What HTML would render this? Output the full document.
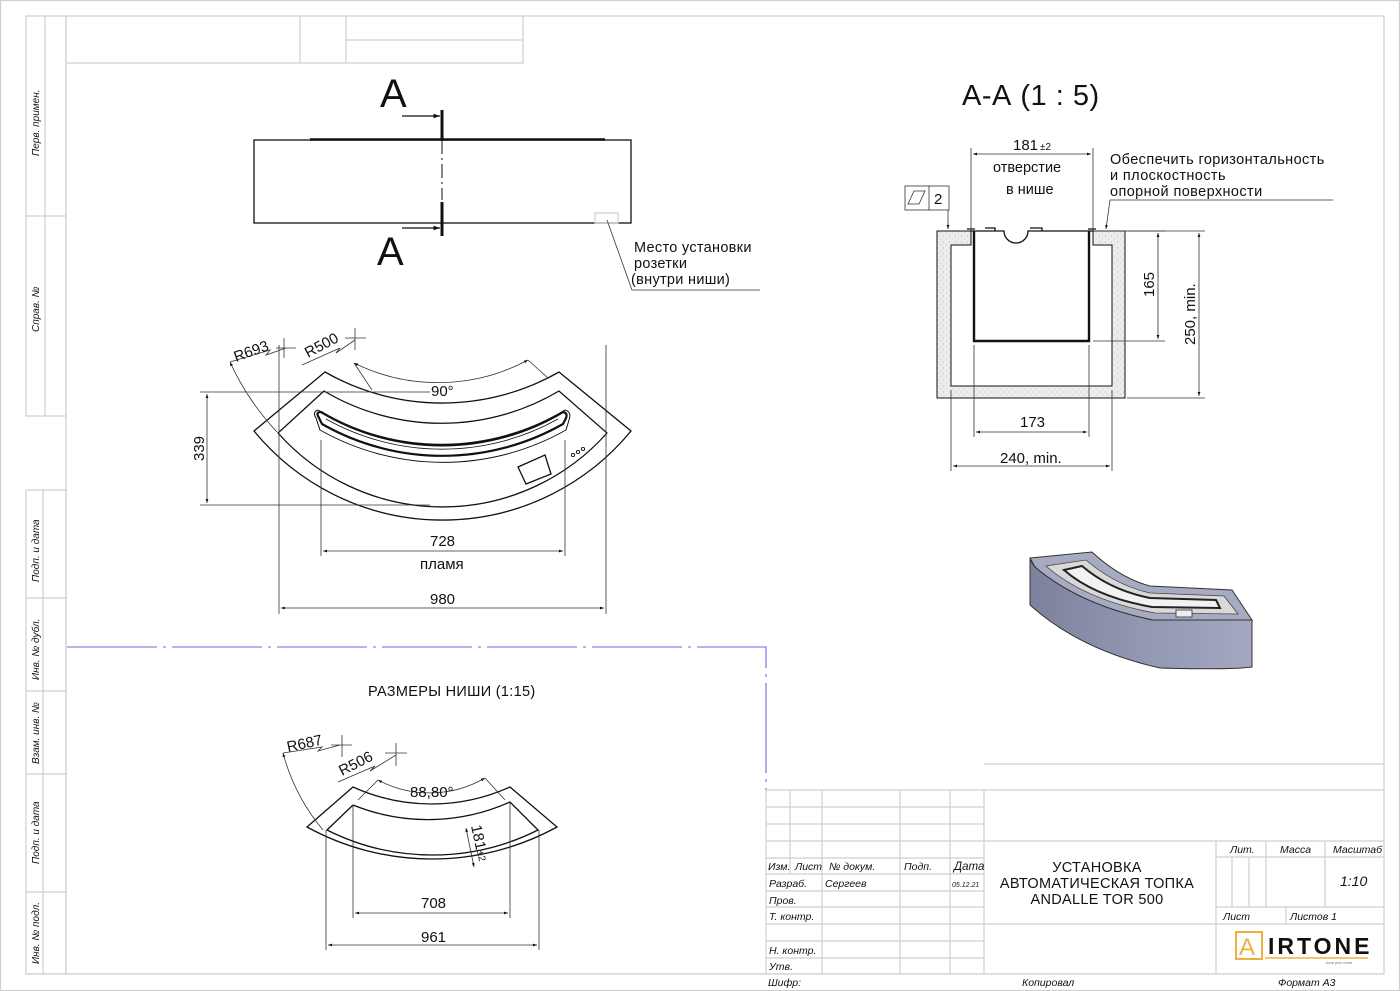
<!DOCTYPE html>
<html><head><meta charset="utf-8"><style>
html,body{margin:0;padding:0;background:#fff;}
svg{display:block;}
text{font-family:"Liberation Sans","DejaVu Sans",sans-serif;fill:#111;}
.g{stroke:#cfcfcf;stroke-width:1.2;fill:none;}
.k{stroke:#111;stroke-width:1.3;fill:none;}
.t{stroke:#333;stroke-width:0.8;fill:none;}
.th{stroke:#111;stroke-width:2.4;fill:none;}
.it{font-style:italic;font-size:10.5px;}
</style></head><body>
<svg width="1400" height="991" viewBox="0 0 1400 991" xmlns="http://www.w3.org/2000/svg">
<defs>
<marker id="ar" viewBox="0 0 10 10" refX="10" refY="5" markerWidth="9" markerHeight="5" orient="auto-start-reverse"><path d="M0,1.5 L10,5 L0,8.5 z" fill="#111"/></marker>
<pattern id="st" width="6" height="6" patternUnits="userSpaceOnUse"><rect width="6" height="6" fill="#ececec"/><circle cx="1.5" cy="2" r="0.6" fill="#bbb"/><circle cx="4.5" cy="4.8" r="0.5" fill="#c4c4c4"/></pattern>
<linearGradient id="fr" x1="0" x2="1" y1="0" y2="0"><stop offset="0" stop-color="#7d829c"/><stop offset="0.5" stop-color="#9297b2"/><stop offset="1" stop-color="#a4a8c0"/></linearGradient>
</defs>
<rect width="1400" height="991" fill="#fff"/>
<rect x="0.5" y="0.5" width="1399" height="990" class="g" stroke="#e4e4e4"/>
<rect x="66" y="16" width="1318" height="958" class="g"/>
<rect x="26" y="16" width="40" height="400" class="g"/>
<line x1="45" y1="16" x2="45" y2="416" class="g"/>
<line x1="26" y1="216" x2="66" y2="216" class="g"/>
<rect x="26" y="490" width="40" height="484" class="g"/>
<line x1="43" y1="490" x2="43" y2="974" class="g"/>
<line x1="26" y1="598" x2="66" y2="598" class="g"/>
<line x1="26" y1="691" x2="66" y2="691" class="g"/>
<line x1="26" y1="774" x2="66" y2="774" class="g"/>
<line x1="26" y1="892" x2="66" y2="892" class="g"/>
<g class="it" style="font-size:10px">
<text transform="translate(39,156) rotate(-90)">Перв. примен.</text>
<text transform="translate(39,332) rotate(-90)">Справ. №</text>
<text transform="translate(39,582) rotate(-90)">Подп. и дата</text>
<text transform="translate(39,680) rotate(-90)">Инв. № дубл.</text>
<text transform="translate(39,764) rotate(-90)">Взам. инв. №</text>
<text transform="translate(39,864) rotate(-90)">Подп. и дата</text>
<text transform="translate(39,964) rotate(-90)">Инв. № подл.</text>
</g>
<path d="M66,63 H523 V16 M300,16 V63 M346,16 V63 M346,40 H523" class="g"/>
<path d="M67,647 H766 V790" stroke="#6a6ae8" stroke-width="1.1" fill="none" stroke-dasharray="90,6,3,6"/>

<rect x="254" y="140" width="377" height="83" class="k"/>
<line x1="310" y1="139.5" x2="605" y2="139.5" stroke="#111" stroke-width="2.5"/>
<line x1="442" y1="140" x2="442" y2="200" stroke="#111" stroke-width="1" stroke-dasharray="14,4,2,4"/>
<line x1="442" y1="110" x2="442" y2="141" stroke="#111" stroke-width="3"/>
<line x1="442" y1="202" x2="442" y2="236" stroke="#111" stroke-width="3"/>
<line x1="402" y1="116" x2="440" y2="116" class="k" marker-end="url(#ar)"/>
<line x1="402" y1="228" x2="440" y2="228" class="k" marker-end="url(#ar)"/>
<text x="380" y="107" style="font-size:40px">A</text>
<text x="377" y="265" style="font-size:40px">A</text>
<rect x="595" y="213" width="23" height="10" class="g"/>
<path d="M607,220 L632,290 H760" class="t"/>
<g style="font-size:14.5px;letter-spacing:0.3px">
<text x="634" y="252">Место установки</text>
<text x="634" y="268">розетки</text>
<text x="631" y="284">(внутри ниши)</text>
</g>

<g class="k">
<path d="M325,372 L254,431 A244,244 0 0 0 631,431 L559,372 A236,236 0 0 1 325,372 Z"/>
<path d="M324,391 L278,433 A220,220 0 0 0 607,433 L559,391 A230,230 0 0 1 324,391 Z"/>
<path d="M316,418 Q312,412 318,410 A240,240 0 0 0 565,410 Q572,412 569,420 L566,430 A250,250 0 0 1 320,430 Z" stroke-width="1"/>
<path d="M318,416 Q316,412 321,412 A236,236 0 0 0 563,412 Q568,413 566,418 L563,424 A244,244 0 0 1 322,424 Z" stroke-width="2.2"/>
<path d="M326,419 A238,238 0 0 0 558,419" stroke-width="0.8"/>
<path d="M518,467 L545,455 L551,474 L526,484 Z"/>
</g>
<g fill="none" stroke="#111" stroke-width="0.9"><circle cx="573" cy="455" r="1.6"/><circle cx="578" cy="452" r="1.6"/><circle cx="583" cy="449" r="1.6"/></g>
<g class="t">
<path d="M200,392 H430 M200,505 H430"/>
<line x1="207" y1="394" x2="207" y2="503" marker-start="url(#ar)" marker-end="url(#ar)"/>
<path d="M321,440 V556 M565,440 V556"/>
<line x1="323" y1="551" x2="563" y2="551" marker-start="url(#ar)" marker-end="url(#ar)"/>
<path d="M279,345 V614 M606,345 V614"/>
<line x1="281" y1="608" x2="604" y2="608" marker-start="url(#ar)" marker-end="url(#ar)"/>
<path d="M354,363 A190,190 0 0 0 528,360" marker-start="url(#ar)" marker-end="url(#ar)"/>
<path d="M354,363 L372,390 M528,360 L548,378"/>
<path d="M230,362 A260,260 0 0 0 277,432" marker-start="url(#ar)"/>
<path d="M230,362 L270,350 L266,355 L286,348 M284,338 V358 M276,348 H296"/>
<path d="M302,365 L340,348 L336,353 L355,340 M355,328 V350 M345,338 H366"/>
</g>
<g style="font-size:15px">
<text transform="translate(236,362) rotate(-20)">R693</text>
<text transform="translate(308,358) rotate(-28)">R500</text>
<text x="431" y="396">90°</text>
<text transform="translate(204,461) rotate(-90)">339</text>
<text x="430" y="546">728</text>
<text x="420" y="569">пламя</text>
<text x="430" y="604">980</text>
</g>

<text x="962" y="105" style="font-size:29px;letter-spacing:0.5px">А-А (1 : 5)</text>
<path d="M937,231 H971 V245 H951 V386 H1112 V245 H1093 V231 H1125 V398 H937 Z" fill="url(#st)" stroke="#111" stroke-width="1"/>
<path d="M974,231 V341 H1089 V231" class="th" stroke-width="2.2"/>
<path d="M970,231 H1004 A12,12 0 0 0 1028,231 H1094" class="k"/>
<path d="M967,229 h8 M985,228 h10 v3 M1030,228 h12 v3 M1088,229 h8" class="k" stroke-width="1.6"/>
<g class="t">
<path d="M971,231 V148 M1093,231 V148"/>
<line x1="973" y1="154" x2="1091" y2="154" marker-start="url(#ar)" marker-end="url(#ar)"/>
<path d="M1093,231 H1165 M1093,341 H1165"/>
<line x1="1158" y1="233" x2="1158" y2="339" marker-start="url(#ar)" marker-end="url(#ar)"/>
<path d="M1127,231 H1205 M1127,398 H1205"/>
<line x1="1199" y1="233" x2="1199" y2="396" marker-start="url(#ar)" marker-end="url(#ar)"/>
<path d="M974,345 V437 M1089,345 V437"/>
<line x1="976" y1="432" x2="1087" y2="432" marker-start="url(#ar)" marker-end="url(#ar)"/>
<path d="M951,390 V471 M1112,390 V471"/>
<line x1="953" y1="466" x2="1110" y2="466" marker-start="url(#ar)" marker-end="url(#ar)"/>
<path d="M1333,200 H1110 L1106,229" marker-end="url(#ar)"/>
<line x1="948" y1="210" x2="948" y2="229" marker-end="url(#ar)"/>
</g>
<rect x="905" y="186" width="44" height="24" class="t" stroke="#555"/>
<line x1="929" y1="186" x2="929" y2="210" class="t"/>
<path d="M908,204 L914,191 H925 L919,204 Z" class="t"/>
<g style="font-size:15px">
<text x="1013" y="150">181</text><text x="1040" y="150" style="font-size:10px">±2</text>
<text x="993" y="172" style="font-size:14.5px">отверстие</text>
<text x="1006" y="194" style="font-size:14.5px">в нише</text>
<text x="934" y="204">2</text>
<text transform="translate(1154,297) rotate(-90)">165</text>
<text transform="translate(1195,345) rotate(-90)">250, min.</text>
<text x="1020" y="427">173</text>
<text x="1000" y="463">240, min.</text>
</g>
<g style="font-size:14.5px;letter-spacing:0.4px">
<text x="1110" y="164">Обеспечить горизонтальность</text>
<text x="1110" y="180">и плоскостность</text>
<text x="1110" y="196">опорной поверхности</text>
</g>

<!-- 3D view -->
<path d="M1030,560 L1035,567 Q1080,605 1153,620 L1252,620 V667 Q1230,670 1160,668 Q1080,650 1030,605 Z" fill="url(#fr)" stroke="#333" stroke-width="1"/>
<path d="M1030,558 L1092,552 Q1120,578 1150,586 L1232,590 L1252,620 L1153,620 Q1080,605 1035,567 Z" fill="#a7abc2" stroke="#333" stroke-width="1"/>
<path d="M1046,566 L1086,560 Q1115,585 1150,593 L1224,596 L1238,614 L1155,613 Q1085,600 1046,566 Z" fill="#d9d9d9" stroke="#444" stroke-width="0.8"/>
<path d="M1064,570 L1082,566 Q1110,590 1150,598 L1216,600 L1220,608 L1152,607 Q1095,597 1064,570 Z" fill="#f2f2f2" stroke="#222" stroke-width="2"/>
<rect x="1176" y="610" width="16" height="7" fill="#eee" stroke="#333" stroke-width="0.8"/>

<text x="368" y="696" style="font-size:14.5px;letter-spacing:0.3px">РАЗМЕРЫ НИШИ (1:15)</text>
<g class="k">
<path d="M353,787 L307,827 A260,260 0 0 0 557,827 L510,787 A190,190 0 0 1 353,787 Z"/>
<path d="M353,805 L327,830 A235,235 0 0 0 538,830 L510,802 A200,200 0 0 1 353,805"/>
</g>
<g class="t">
<path d="M353,805 V918 M510,802 V918"/>
<line x1="355" y1="913" x2="508" y2="913" marker-start="url(#ar)" marker-end="url(#ar)"/>
<path d="M326,830 V950 M539,830 V950"/>
<line x1="328" y1="945" x2="537" y2="945" marker-start="url(#ar)" marker-end="url(#ar)"/>
<path d="M378,780 A110,110 0 0 0 485,778" marker-start="url(#ar)" marker-end="url(#ar)"/>
<path d="M378,780 L358,800 M485,778 L505,800"/>
<line x1="466" y1="828" x2="474" y2="867" marker-start="url(#ar)" marker-end="url(#ar)"/>
<path d="M283,753 A200,200 0 0 0 323,830" marker-start="url(#ar)"/>
<path d="M283,753 L322,747 L318,751 L340,745 M342,735 V757 M331,745 H352"/>
<path d="M338,782 L375,766 L370,771 L396,755 M396,743 V766 M385,753 H407"/>
</g>
<g style="font-size:15px">
<text transform="translate(288,752) rotate(-12)">R687</text>
<text transform="translate(342,776) rotate(-27)">R506</text>
<text x="410" y="797">88,80°</text>
<text transform="translate(471,826) rotate(78)">181</text>
<text transform="translate(477,851) rotate(78)" style="font-size:10px">±2</text>
<text x="421" y="908">708</text>
<text x="421" y="942">961</text>
</g>

<g class="g">
<path d="M984,764 H1384 M766,790 H1384 M984,790 V974 M766,790 V974"/>
<path d="M766,807 H984 M766,824 H984 M766,841 H1384 M766,858 H984 M766,874 H984 M766,891 H984 M766,907 H984 M766,924 H1384 M766,941 H984 M766,958 H984"/>
<path d="M790,790 V874 M822,790 V974 M900,790 V974 M950,790 V974"/>
<path d="M1216,841 V974 M1216,857 H1384 M1232,857 V907 M1249,857 V907 M1266,841 V907 M1325,841 V907 M1216,907 H1384 M1286,907 V924"/>
<path d="M26,974 H1384"/>
</g>
<g class="it">
<text x="768" y="870">Изм.</text><text x="795" y="870">Лист</text><text x="829" y="870">№ докум.</text><text x="904" y="870">Подп.</text><text x="954" y="870" style="font-size:11.5px">Дата</text>
<text x="769" y="887">Разраб.</text><text x="825" y="887">Сергеев</text><text x="952" y="887" style="font-size:7px">05.12.21</text>
<text x="769" y="904">Пров.</text>
<text x="769" y="920">Т. контр.</text>
<text x="769" y="954">Н. контр.</text>
<text x="769" y="970">Утв.</text>
<text x="1230" y="853">Лит.</text><text x="1280" y="853">Масса</text><text x="1333" y="853">Масштаб</text>
<text x="1340" y="886" style="font-size:14px">1:10</text>
<text x="1223" y="920">Лист</text><text x="1290" y="920">Листов 1</text>
<text x="768" y="986">Шифр:</text><text x="1022" y="986">Копировал</text><text x="1278" y="986">Формат А3</text>
</g>
<g style="font-size:14.5px;letter-spacing:0.3px" text-anchor="middle">
<text x="1097" y="872">УСТАНОВКА</text>
<text x="1097" y="888">АВТОМАТИЧЕСКАЯ ТОПКА</text>
<text x="1097" y="904">ANDALLE TOR 500</text>
</g>
<rect x="1236" y="932" width="26" height="27" fill="none" stroke="#f0b040" stroke-width="2"/>
<text x="1239" y="955" style="font-size:24px;fill:#f0b040">A</text>
<text x="1268" y="954" style="font-size:23px;font-weight:bold;letter-spacing:3px">IRTONE</text>
<line x1="1265" y1="958" x2="1368" y2="958" stroke="#f0b040" stroke-width="1.5"/>
<text x="1326" y="964" style="font-size:4px;fill:#777">heat pnic fome</text>
</svg>
</body></html>
